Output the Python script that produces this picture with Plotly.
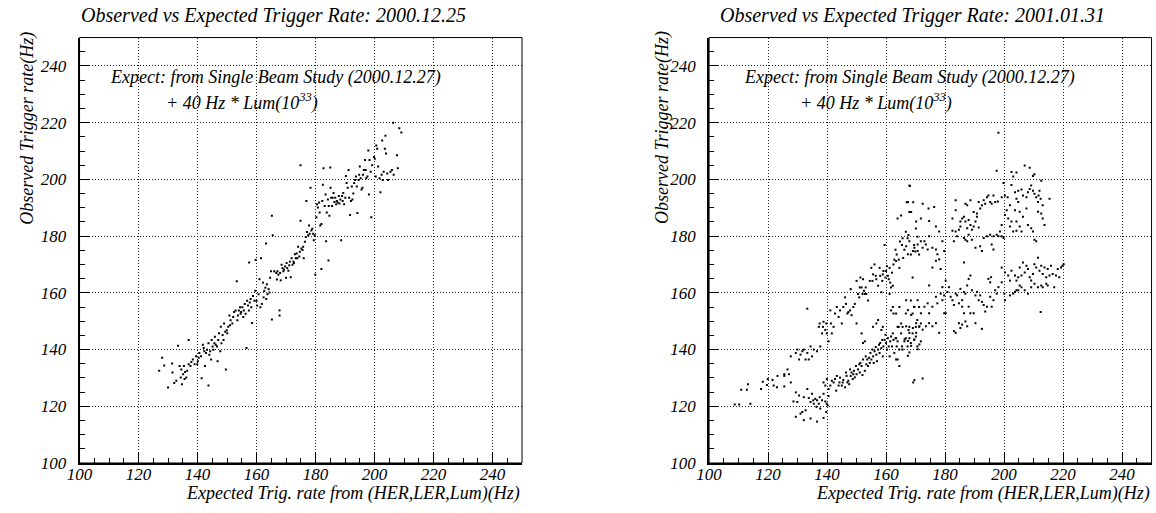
import plotly.graph_objects as go

# ---------------- data ----------------
# Left panel: 2000.12.25  (expected, observed) in Hz
left_points = [
    (127.0,132.5),(128.0,137.1),(128.7,134.4),(130.0,126.6),(131.4,135.1),(131.5,131.9),(132.1,128.2),(132.8,129.0),
    (133.4,141.3),(133.9,134.2),(134.3,130.1),(134.5,133.0),(134.7,127.8),(135.1,131.3),(135.4,134.2),(135.6,129.6),
    (135.8,132.1),(136.2,130.1),(136.5,132.5),(137.0,143.4),(137.0,134.8),(137.6,134.2),(137.9,135.6),(138.4,136.5),
    (139.0,134.8),(139.5,137.6),(139.9,134.8),(140.1,135.9),(140.4,137.1),(140.6,138.8),(141.2,137.6),(141.4,129.9),
    (141.8,141.7),(142.1,140.5),(142.3,139.4),(142.5,134.2),(142.9,138.8),(143.2,139.9),(143.7,127.3),(143.7,142.2),
    (144.0,138.2),(144.3,139.4),(144.6,136.5),(144.8,143.4),(145.1,141.1),(145.4,139.9),(145.7,142.2),(145.9,144.5),
    (146.2,141.7),(146.6,141.1),(146.8,135.9),(147.0,143.4),(147.3,145.7),(147.7,139.4),(147.9,148.0),(148.1,142.2),
    (148.5,145.1),(148.8,143.4),(149.0,149.2),(149.4,146.3),(149.6,133.0),(149.9,146.8),(150.1,145.7),(150.4,148.0),
    (150.8,152.0),(151.0,148.6),(151.2,150.3),(151.8,149.2),(152.1,151.5),(152.4,153.2),(152.9,153.8),(153.3,164.1),
    (153.5,150.3),(153.7,152.0),(154.0,153.8),(154.4,154.9),(154.6,152.6),(154.8,153.2),(155.2,154.9),(155.5,151.5),
    (155.7,153.8),(156.0,156.1),(156.3,152.6),(156.6,140.5),(156.8,157.2),(157.1,155.5),(157.4,153.8),(157.5,170.7),
    (157.7,156.6),(158.0,157.8),(158.2,154.9),(158.5,149.4),(158.8,158.9),(159.3,157.2),(159.6,160.7),(159.7,171.6),
    (160.0,157.2),(160.2,155.5),(160.7,159.5),(161.0,164.8),(161.3,154.9),(161.5,172.2),(161.8,156.1),(162.2,163.6),
    (162.4,158.4),(162.6,160.7),(163.0,161.8),(163.2,177.4),(163.3,157.8),(163.5,163.0),(163.7,159.5),(164.1,161.3),
    (164.4,160.1),(164.6,165.3),(164.9,167.6),(165.2,150.6),(165.2,187.2),(165.5,180.3),(166.0,167.6),(166.7,167.0),
    (166.9,164.7),(167.1,167.6),(167.4,166.4),(167.8,153.8),(167.8,152.0),(168.0,167.0),(168.2,164.4),(168.5,169.9),
    (168.8,168.7),(169.1,167.6),(169.3,168.2),(169.7,169.3),(170.0,165.3),(170.2,170.5),(170.4,168.7),(170.8,167.8),
    (171.1,169.7),(171.3,171.0),(171.6,165.5),(171.9,172.2),(172.2,169.9),(172.5,171.0),(172.7,170.5),(173.0,173.6),
    (173.3,172.2),(173.6,173.9),(173.8,172.2),(174.1,176.2),(174.5,172.8),(174.7,174.5),(174.9,205.0),(174.9,185.4),
    (175.2,175.6),(175.6,175.1),(175.8,176.2),(176.0,172.2),(176.4,178.0),(176.7,179.7),(176.9,192.4),(177.1,181.4),
    (177.5,180.3),(177.8,183.7),(178.0,180.8),(178.3,197.0),(178.6,182.0),(178.9,182.6),(179.2,180.8),(179.4,178.5),
    (179.7,180.3),(179.9,166.4),(180.3,186.6),(180.5,191.2),(180.8,190.1),(181.2,191.8),(181.4,188.3),(181.6,183.7),
    (182.0,168.4),(182.0,184.3),(182.3,192.4),(182.5,198.1),(182.7,203.9),(183.1,190.6),(183.4,194.7),(183.6,178.2),
    (183.8,188.3),(184.2,192.9),(184.4,171.4),(184.5,190.6),(184.7,187.2),(185.0,204.2),(185.1,197.0),(185.3,193.5),
    (185.6,190.6),(185.8,193.5),(186.1,195.2),(186.4,192.0),(186.7,193.5),(187.0,191.2),(187.2,192.4),(187.5,191.8),
    (187.9,194.1),(188.1,191.5),(188.4,192.9),(188.7,178.5),(189.0,194.1),(189.2,192.4),(189.4,195.2),(189.7,191.2),
    (190.1,193.5),(190.3,201.2),(190.5,198.7),(190.9,197.0),(191.2,203.3),(191.4,193.5),(191.7,187.4),(192.0,192.4),
    (192.3,197.5),(192.5,192.9),(192.8,195.0),(193.1,198.7),(193.4,199.8),(193.7,201.0),(194.0,197.5),(194.2,188.1),
    (194.6,199.8),(194.8,201.6),(195.0,204.5),(195.3,200.4),(195.6,196.4),(195.9,197.0),(196.1,201.6),(196.4,203.3),
    (196.8,206.8),(197.0,203.3),(197.2,200.4),(197.6,201.0),(197.9,210.2),(198.1,194.7),(198.3,206.8),(198.7,202.7),
    (198.9,186.6),(199.2,205.0),(199.8,207.9),(200.1,207.3),(200.4,201.0),(200.6,211.9),(200.9,210.8),(201.2,204.5),
    (201.7,200.4),(202.0,195.5),(202.4,201.6),(202.6,213.7),(202.8,199.8),(203.1,202.7),(203.5,210.8),(203.7,215.4),
    (203.9,209.1),(204.3,202.1),(204.6,199.8),(205.4,202.7),(205.9,203.3),(206.3,220.0),(206.5,201.6),(207.6,208.5),
    (207.9,203.9),(208.4,218.0),(209.1,216.5),
]

# Right panel: 2001.01.31  (expected, observed) in Hz
right_points = [
    # lower branch, left part
    (108.7,120.6),(110.2,120.6),(112.8,125.8),(114.0,120.9),(117.6,126.1),(119.6,127.5),(121.5,129.3),(121.9,127.3),
    (123.0,126.7),(125.5,127.0),(125.5,130.7),(127.1,131.3),(127.7,128.4),(128.6,121.7),(129.4,124.9),(129.9,121.5),
    (130.5,123.8),(131.0,117.4),(131.6,118.0),(132.1,123.2),(132.7,118.6),(133.3,126.1),(133.8,122.9),(134.4,121.5),
    (134.9,124.4),(135.3,122.1),(135.5,120.9),(136.0,122.6),(136.4,119.8),(136.6,122.1),(137.2,120.9),(137.5,123.2),
    (137.7,119.2),(138.3,122.1),(138.8,124.4),(139.4,121.7),(139.7,118.0),(139.9,120.9),(140.2,120.3),(140.5,123.6),
    (138.8,128.4),(139.4,127.3),(139.9,129.6),(140.5,126.1),(141.1,127.3),(141.6,129.0),(142.2,128.4),(142.7,129.6),
    (143.1,125.5),(143.3,130.7),(143.9,127.3),(144.2,128.4),(144.4,130.1),(145.0,127.3),(145.3,128.4),(145.5,129.3),
    (146.1,126.7),(146.4,131.9),(146.6,130.7),(146.9,128.4),(147.2,129.0),(147.5,127.8),(147.8,133.0),(148.0,130.7),
    (148.3,131.9),(148.7,129.6),(148.9,131.3),(149.1,132.5),(149.4,130.2),(149.8,134.2),(150.0,131.3),(150.5,133.0),
    (150.9,134.8),(151.1,131.9),(151.3,135.3),(151.7,134.2),(152.0,131.0),(152.2,136.5),(152.8,132.5),(153.1,137.6),
    (153.3,134.8),(153.6,136.5),(153.9,134.2),(154.2,137.1),(154.5,135.3),(154.7,138.8),(155.0,136.5),(155.4,140.0),
    (155.6,137.6),(155.8,135.3),(156.1,139.4),(156.5,140.9),(156.7,138.2),(156.9,135.9),(157.3,140.0),(157.6,141.7),
    (157.8,138.8),(158.0,142.3),(158.4,140.5),(158.7,143.4),(158.9,137.6),(159.1,141.1),(159.5,143.4),(159.8,145.2),
    (160.0,142.3),(160.3,140.0),(160.6,144.0),(160.9,141.1),(161.2,137.6),(161.4,142.9),(161.7,144.6),(162.0,141.1),
    (162.3,145.7),(162.5,143.4),(162.8,138.8),(163.2,144.0),(163.4,136.5),(163.6,141.1),(163.9,142.9),(164.3,148.0),
    (164.5,140.0),(165.1,145.7),(165.4,141.1),(166.2,142.9),(166.7,144.0),(167.3,141.1),(167.6,146.9),(167.9,144.0),
    (168.4,142.3),(169.0,145.7),(169.2,128.4),(169.5,143.4),(170.1,144.6),(170.6,141.1),(171.2,148.0),(171.8,142.9),
    (132.1,115.1),(134.4,115.7),(136.6,114.6),(129.4,116.3),(138.8,115.9),
    # upper branch, left part
    (110.9,125.8),(113.2,127.8),(118.2,128.6),(119.9,129.6),(123.2,130.7),(125.5,131.3),(126.6,133.0),(127.7,137.6),
    (129.4,138.8),(129.9,140.0),(130.5,136.5),(131.0,138.2),(131.6,139.4),(132.1,140.0),(132.7,136.5),(133.3,138.8),
    (133.8,136.5),(133.3,154.4),(134.4,141.1),(134.9,137.6),(135.5,140.0),(136.6,139.4),(137.7,141.1),(137.2,148.0),
    (137.5,149.2),(138.3,145.7),(138.6,148.0),(138.8,149.8),(139.4,146.9),(139.7,149.2),(139.9,145.7),(140.5,142.9),
    (141.1,153.8),(141.3,149.2),(141.6,145.7),(142.2,148.0),(142.7,152.7),(143.3,155.0),(143.9,151.5),(144.4,153.8),
    (145.0,149.2),(145.5,155.0),(146.1,158.4),(146.4,156.1),(146.9,152.7),(147.2,153.2),(147.8,153.8),(148.0,161.3),
    (148.3,152.1),(148.9,155.0),(149.4,156.1),(150.0,164.2),(150.5,159.6),(150.9,158.4),(151.1,161.9),(151.3,165.4),
    (151.7,161.9),(152.0,159.6),(152.2,164.8),(152.5,160.7),(152.8,159.6),(153.1,161.9),(153.3,159.6),(153.9,157.3),
    (154.5,164.2),(155.0,168.8),(155.4,164.2),(155.6,166.5),(156.1,170.0),(156.5,166.0),(156.7,164.8),(157.3,162.5),
    (157.8,168.8),(158.0,166.0),(158.4,160.2),(158.7,164.2),(158.9,166.5),(159.1,167.7),(159.5,176.9),(159.8,165.4),
    (160.0,167.7),(160.3,169.4),(160.6,166.0),(160.9,164.8),(161.2,168.8),(161.4,163.6),(161.7,161.9),(162.0,167.1),
    (162.3,162.5),(162.5,170.0),(162.8,171.7),(163.2,175.2),(163.4,171.2),(163.6,173.5),(163.9,186.2),(164.3,171.7),
    (164.5,168.8),(164.7,178.1),(165.1,187.3),(165.4,176.9),(165.6,179.2),(165.8,172.3),(166.2,175.2),(166.7,181.5),
    (167.0,191.9),(167.3,179.2),(167.6,180.4),(167.9,188.5),(168.1,197.7),(168.4,173.5),(169.0,165.4),(169.2,191.9),
    (169.5,176.9),(169.9,174.6),(170.1,182.7),(170.6,179.8),(171.2,173.5),(171.8,186.2),
    # middle scatter
    (150.0,149.2),(151.7,145.7),(152.2,142.3),(152.8,142.9),(155.6,148.0),(156.7,149.2),(157.3,150.4),(158.4,146.9),
    (158.9,148.0),(161.2,159.6),(161.7,153.8),(162.3,155.0),(162.5,152.7),(163.4,152.7),(163.9,148.0),(164.5,155.0),
    (165.1,149.2),(165.6,148.0),(166.7,152.7),(167.9,148.0),(168.4,157.3),(169.0,152.7),(169.5,155.0),(170.1,148.0),
    (170.6,150.4),(171.2,155.0),(171.8,149.2),(163.4,144.0),(163.9,136.5),(164.5,134.2),(165.6,140.0),
    # upper cluster, right part
    (198.1,216.4),(197.5,203.0),(202.5,202.6),(204.2,202.4),(207.0,204.9),(208.7,204.1),(209.8,201.2),(210.3,201.8),
    (203.1,201.0),(199.8,198.7),(200.3,194.3),(201.2,193.7),(202.5,198.0),(203.7,195.5),(204.2,193.2),(204.8,196.0),
    (205.9,196.4),(206.4,194.3),(207.6,193.7),(208.1,195.5),(208.7,196.6),(209.2,197.8),(209.8,196.0),(210.3,194.9),
    (210.9,193.7),(211.5,192.0),(211.7,194.3),(212.0,196.0),(212.4,193.2),(212.6,199.5),(213.1,190.9),(211.5,188.6),
    (212.6,188.0),(213.1,186.2),(213.7,183.9),(215.4,193.2),(204.8,192.0),(203.7,189.1),(205.3,188.6),(202.0,190.9),
    (200.9,189.1),(200.3,187.4),(201.4,186.2),(202.5,185.1),(204.2,185.1),(205.3,183.4),(206.4,186.8),(207.6,189.7),
    (208.1,183.9),(209.2,182.8),(209.8,181.6),(210.3,178.7),(210.9,178.2),(205.9,181.6),(204.2,181.9),(203.1,181.6),
    (202.0,183.4),(199.2,183.9),(198.6,181.6),(198.1,179.9),(199.2,179.9),(199.8,179.3),(197.5,180.5),(196.4,179.9),
    (195.3,180.5),(194.2,179.9),(193.1,179.3),(192.5,174.7),(191.4,183.0),(190.8,188.0),(190.3,185.1),(189.7,183.4),
    (189.1,182.2),(188.0,185.7),(188.6,183.9),(187.5,182.8),(186.9,185.1),(186.4,186.8),(185.8,186.2),(185.2,183.4),
    (184.7,182.2),(184.1,179.9),(183.6,181.6),(183.0,178.2),(182.5,181.9),(183.6,189.1),(185.2,185.1),(186.9,191.4),
    (187.5,190.9),(188.6,192.6),(189.7,188.5),(190.8,186.8),(191.4,192.0),(191.9,189.7),(192.5,190.9),(193.1,192.6),
    (193.6,191.4),(194.2,193.7),(194.7,194.3),(195.3,192.0),(195.8,191.4),(196.4,194.3),(197.0,192.0),(197.9,192.2),
    (199.2,193.7),(182.5,186.2),(183.6,192.6),(188.0,180.5),(189.1,178.7),(190.3,175.9),(191.9,176.4),(195.8,177.0),
    (196.4,175.3),(186.4,179.3),(186.9,178.7),(187.5,178.2),(186.4,170.7),
    # upper cluster, left part
    (167.9,197.8),(167.4,192.0),(168.5,188.5),(170.2,185.1),(172.4,191.4),(174.4,189.7),(176.3,190.3),(174.6,185.3),
    (176.9,183.4),(178.0,181.6),(179.1,178.2),(179.7,174.7),(174.6,179.9),(173.0,178.2),(173.5,177.0),(174.1,175.3),
    (172.4,175.9),(170.7,174.7),(169.6,175.9),(169.1,174.7),(167.9,178.2),(167.4,173.6),(166.8,176.4),(176.9,175.3),
    (177.4,173.6),(175.7,175.9),(171.8,178.2),(170.7,177.0),
    # lower cluster, right part
    (199.2,168.9),(200.3,167.2),(201.4,166.1),(202.0,164.3),(202.5,167.8),(203.7,166.1),(204.2,164.3),(204.8,165.5),
    (205.3,168.9),(205.9,166.1),(206.4,170.7),(207.0,167.2),(207.6,169.5),(208.1,168.4),(208.7,165.5),(209.2,164.3),
    (209.8,166.6),(210.3,170.1),(210.9,168.9),(211.5,172.4),(212.0,167.8),(212.6,169.5),(213.1,166.6),(213.7,168.9),
    (214.3,165.5),(214.8,168.4),(215.4,166.1),(215.9,169.5),(216.5,166.6),(217.0,162.0),(217.6,166.1),(218.2,168.4),
    (218.7,165.5),(219.3,168.9),(219.8,169.5),(220.2,170.1),(214.8,162.6),(214.3,163.2),(213.1,162.0),(212.6,162.6),
    (211.5,162.0),(210.3,163.2),(209.2,162.0),(208.1,159.7),(207.0,160.9),(205.9,162.0),(205.3,162.6),(204.8,160.9),
    (204.2,160.9),(203.7,160.3),(203.1,159.7),(202.0,159.1),(200.3,157.4),(200.1,159.7),(199.2,163.7),(198.1,162.0),
    (197.5,159.7),(197.0,160.9),(196.4,157.4),(195.3,163.7),(194.7,164.9),(195.6,165.5),(195.8,155.1),(195.3,158.6),
    (194.2,155.1),(193.6,153.4),(193.1,155.7),(192.5,156.8),(191.9,159.1),(191.4,157.4),(190.8,160.3),(190.3,159.1),
    (189.7,152.8),(189.1,160.9),(188.6,166.1),(188.0,164.9),(187.5,162.6),(186.9,159.7),(186.4,160.3),(185.8,157.4),
    (185.2,161.4),(184.7,156.3),(184.1,159.1),(183.6,159.7),(183.0,155.7),(182.5,157.4),(181.9,158.6),(181.3,162.0),
    (180.8,160.3),(180.2,164.3),(179.7,159.1),(179.1,162.0),(178.5,168.4),(178.0,171.8),(176.9,171.3),(175.7,168.9),
    (174.6,162.6),(188.0,155.1),(188.6,152.8),(185.8,155.1),(186.4,152.8),(186.9,149.9),(187.5,148.2),(185.2,147.6),
    (185.8,148.8),(184.7,149.3),(183.6,145.9),(183.0,146.5),(192.5,147.3),(190.3,149.3),(212.4,153.2),
    # lower cluster, left part
    (166.8,157.4),(167.4,153.9),(168.5,152.2),(169.6,155.1),(170.7,157.4),(171.8,152.8),(173.0,155.1),(174.1,156.3),
    (174.6,152.8),(175.7,155.1),(176.9,158.6),(177.4,156.3),(178.5,159.7),(179.1,157.4),(179.7,152.8),(180.2,152.8),
    (166.8,148.2),(167.9,145.9),(169.1,147.6),(170.2,149.3),(171.3,148.2),(172.4,147.0),(173.5,148.2),(174.6,149.3),
    (175.7,148.2),(176.9,149.3),(178.0,145.9),(166.3,143.6),(167.4,143.0),(168.5,141.3),(169.6,143.6),(170.7,140.1),
    (171.3,141.8),(170.2,145.9),(167.9,139.0),(167.4,137.8),(169.6,129.2),(172.4,129.8),
]

left_x = [p[0] for p in left_points]
left_y = [p[1] for p in left_points]
right_x = [p[0] for p in right_points]
right_y = [p[1] for p in right_points]

titles = ["Observed vs Expected Trigger Rate: 2000.12.25",
          "Observed vs Expected Trigger Rate: 2001.01.31"]
x_title = "Expected Trig. rate from (HER,LER,Lum)(Hz)"
y_title = "Observed Trigger rate(Hz)"
note_line1 = "Expect: from Single Beam Study (2000.12.27)"
note_line2 = "+ 40 Hz * Lum(10<sup>33</sup>)"
axis_range = [100, 250]
tick_values = [100, 120, 140, 160, 180, 200, 220, 240]
tick_labels = [f"<i>{v}</i>" for v in tick_values]

# ---------------- layout geometry (pixels of a 1156x513 canvas) ----------------
W, H = 1156, 513
panels = [(67.3, 514.8), (704.0, 1151.5)]   # frame left/right, px
title_cx = [263.0, 910.0]                     # title centres, px
note_dx = [29.0, 33.4]                        # note offset from frame left, px
ytitle_x = [15.0, 657.5]                      # y-axis title centre, px
frame_top, frame_bottom = 38.3, 472.2
ydom = [(H - frame_bottom) / H, (H - frame_top) / H]

SERIF = "Liberation Serif"

def fnt(size):
    return dict(family=SERIF, size=size, color="black", style="italic")

fig = go.Figure()
marker = dict(size=2.0, color="black", symbol="square", line=dict(width=0))
fig.add_trace(go.Scatter(x=left_x, y=left_y, mode="markers", marker=marker,
                         xaxis="x", yaxis="y", hoverinfo="skip"))
fig.add_trace(go.Scatter(x=right_x, y=right_y, mode="markers", marker=marker,
                         xaxis="x2", yaxis="y2", hoverinfo="skip"))

def axis_style(ticklabel_standoff):
    return dict(range=axis_range, tickmode="array", tickvals=tick_values, ticktext=tick_labels,
                showgrid=True, gridcolor="#222222", griddash="1px,2px", gridwidth=1, zeroline=False,
                showline=True, linecolor="black", linewidth=2,
                ticks="inside", ticklen=10, tickwidth=1, tickcolor="black",
                tickfont=fnt(17), ticklabelstandoff=ticklabel_standoff,
                minor=dict(tickmode="linear", tick0=100, dtick=5, ticks="inside", ticklen=5,
                           tickwidth=1, tickcolor="black", showgrid=False),
                fixedrange=True)

fig.update_layout(
    width=W, height=H, autosize=False,
    margin=dict(l=0, r=0, t=0, b=0, pad=0),
    paper_bgcolor="white", plot_bgcolor="white", showlegend=False,
    xaxis=dict(domain=[panels[0][0] / W, panels[0][1] / W], anchor="y", **axis_style(-5)),
    yaxis=dict(domain=ydom, anchor="x", **axis_style(8)),
    xaxis2=dict(domain=[panels[1][0] / W, panels[1][1] / W], anchor="y2", **axis_style(-5)),
    yaxis2=dict(domain=ydom, anchor="x2", **axis_style(8)),
)

shapes = []
annotations = []
for i, (xl, xr) in enumerate(panels):
    sfx = "" if i == 0 else "2"
    shapes.append(dict(type="rect", xref=f"x{sfx} domain", yref=f"y{sfx} domain",
                       x0=0, x1=1, y0=0, y1=1, line=dict(color="black", width=1),
                       fillcolor="rgba(0,0,0,0)", layer="above"))
    annotations.append(dict(text=titles[i], x=title_cx[i] / W, y=(H - 16) / H, xref="paper", yref="paper",
                            xanchor="center", yanchor="middle", showarrow=False, font=fnt(20)))
    annotations.append(dict(text=x_title, x=xr / W, y=(H - 503) / H, xref="paper", yref="paper",
                            xanchor="right", yanchor="middle", showarrow=False, font=fnt(18)))
    annotations.append(dict(text=y_title, x=ytitle_x[i] / W, y=(H - 30) / H, xref="paper",
                            yref="paper", xanchor="center", yanchor="top", textangle=-90,
                            showarrow=False, font=fnt(18)))
    annotations.append(dict(text=note_line1, x=(xl + note_dx[i]) / W, y=(H - 79) / H, xref="paper",
                            yref="paper", xanchor="left", yanchor="middle", showarrow=False, font=fnt(18)))
    annotations.append(dict(text=note_line2, x=(xl + note_dx[i] + 56.6) / W, y=(H - 104) / H, xref="paper",
                            yref="paper", xanchor="left", yanchor="middle", showarrow=False, font=fnt(18)))

fig.update_layout(shapes=shapes, annotations=annotations)

fig.write_html("out.html", config={"displayModeBar": False},
               post_script="document.body.style.margin='0';document.body.style.overflow='hidden';")
